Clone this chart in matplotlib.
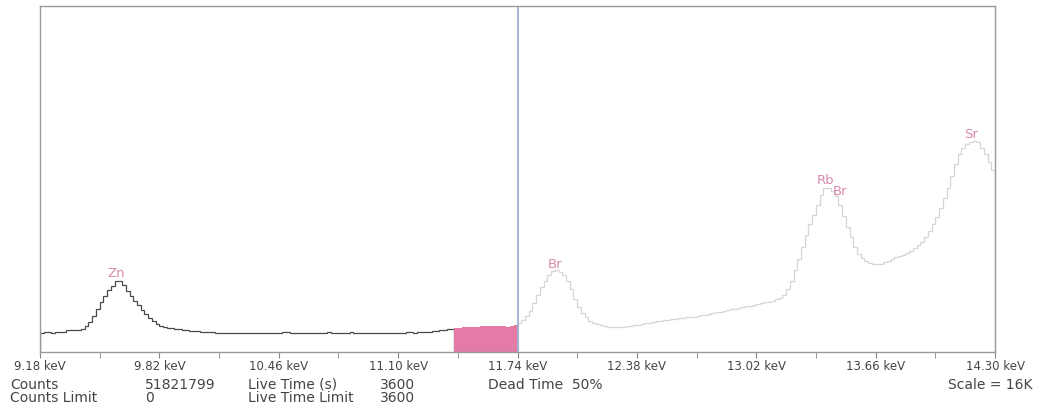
import numpy as np
import matplotlib
matplotlib.use('Agg')
import matplotlib.pyplot as plt

plt.rcParams['font.family'] = ['DejaVu Sans']

# Spectrum channels: 0.02 keV wide, starting at 9.18 keV
e_start_kev = 9.18
channel_kev = 0.02

# counts left of the region of interest (9.18 - 11.40 keV)
counts_left = [
    900, 905, 910, 900, 915, 910, 915, 1000, 1010, 1020, 1030,
    1080, 1200, 1390, 1680, 1990, 2300, 2610, 2860, 3070, 3290,
    3270, 3100, 2830, 2580, 2360, 2170, 1960, 1760, 1570, 1420,
    1300, 1220, 1160, 1120, 1090, 1070, 1050, 1030, 1010, 990,
    975, 960, 945, 930,
    920, 910, 900, 895, 890, 895, 885, 880, 890, 885,
    880, 875, 885, 880, 870, 880, 875, 885, 870, 880,
    930, 920, 890, 880, 870, 875, 865, 870, 880, 860,
    870, 865, 905, 870, 860, 865, 870, 900, 930, 900,
    890, 870, 880, 870, 890, 880, 870, 885, 895, 880,
    890, 900, 895, 905, 910, 900, 915, 930, 925, 945,
    960, 985, 1000, 1030, 1060, 1080,
]
# region of interest (11.40 - 11.74 keV), shaded
counts_roi = [1110, 1130, 1140, 1150, 1160, 1170, 1165, 1180, 1190,
              1185, 1200, 1195, 1180, 1190, 1175, 1185, 1260]
# right of the cursor (11.74 - 14.30 keV)
counts_right = [
    1350, 1480, 1650, 1900, 2250, 2650, 3000, 3300, 3550, 3750,
    3780, 3700, 3550, 3300, 2900, 2450, 2100, 1800, 1600, 1450,
    1350, 1280, 1230, 1190, 1170, 1150, 1160, 1150, 1170, 1190,
    1210, 1240, 1270, 1300, 1330, 1360, 1390, 1420, 1450, 1480,
    1500, 1520, 1540, 1560, 1580, 1600, 1620, 1640, 1660, 1690,
    1720, 1760, 1790, 1830, 1860, 1900, 1940, 1980, 2010, 2050,
    2080, 2120, 2150, 2190, 2220, 2250, 2290, 2330, 2380, 2430,
    2500, 2620, 2900, 3300, 3800, 4300, 4850, 5400, 5900, 6350,
    6800, 7250, 7600, 7580, 7450, 7200, 6800, 6300, 5800, 5300,
    4850, 4550, 4350, 4200, 4120, 4070, 4050, 4080, 4150, 4220,
    4300, 4370, 4430, 4500, 4580, 4680, 4800, 4950, 5100, 5300,
    5600, 5900, 6250, 6650, 7100, 7600, 8150, 8700, 9150, 9450,
    9600, 9700, 9780, 9700, 9450, 9150, 8800, 8400,
]

cursor_kev = 11.74
tick_kev = [9.18, 9.82, 10.46, 11.10, 11.74, 12.38, 13.02, 13.66, 14.30]
scale_counts = 16000

peak_names = ['Zn', 'Br', 'Rb', 'Br', 'Sr']
peak_kev = [9.59, 11.94, 13.39, 13.47, 14.17]
peak_label_counts = [3650, 4050, 7950, 7400, 10050]

# channel edges from the calibration
n_left, n_roi, n_right = len(counts_left), len(counts_roi), len(counts_right)
edges = e_start_kev + channel_kev * np.arange(n_left + n_roi + n_right + 1)
edges_left = edges[:n_left + 1]
edges_roi = edges[n_left:n_left + n_roi + 1]
edges_right = edges[n_left + n_roi:]

fig = plt.figure(figsize=(10.41, 4.09), dpi=100)
ax = fig.add_axes([40 / 1041, 57 / 409, 955 / 1041, 346 / 409])

ax.stairs(counts_left, edges_left, color='#4a4a4a', lw=0.9)
ax.stairs(counts_roi, edges_roi, fill=True, color='#e47aa6')
ax.stairs(counts_right, edges_right, color='#d6d6d6', lw=0.9)
ax.axvline(cursor_kev, color='#9fb3d3', lw=1.3)

for name, e, c in zip(peak_names, peak_kev, peak_label_counts):
    ax.text(e, c, name, color='#d98aae', fontsize=9.5, ha='center',
            va='center')

ax.set_xlim(tick_kev[0], tick_kev[-1])
ax.set_ylim(0, scale_counts)
ax.set_xticks(tick_kev)
ax.set_xticklabels(['%.2f keV' % t for t in tick_kev])
ax.set_xticks([(a + b) / 2 for a, b in zip(tick_kev[:-1], tick_kev[1:])],
              minor=True)
ax.set_yticks([])
ax.tick_params(axis='x', which='both', direction='out', length=4,
               color='#888888', labelsize=8.5, labelcolor='#444444', pad=2)
for s in ax.spines.values():
    s.set_color('#999999')
    s.set_linewidth(1.0)

# status lines below the chart
txt = dict(fontsize=10, color='#444444', va='center')
fig.text(10 / 1041, 1 - 385 / 409, 'Counts', **txt)
fig.text(10 / 1041, 1 - 398 / 409, 'Counts Limit', **txt)
fig.text(145 / 1041, 1 - 385 / 409, '51821799', **txt)
fig.text(145 / 1041, 1 - 398 / 409, '0', **txt)
fig.text(248 / 1041, 1 - 385 / 409, 'Live Time (s)', **txt)
fig.text(248 / 1041, 1 - 398 / 409, 'Live Time Limit', **txt)
fig.text(380 / 1041, 1 - 385 / 409, '3600', **txt)
fig.text(380 / 1041, 1 - 398 / 409, '3600', **txt)
fig.text(488 / 1041, 1 - 385 / 409, 'Dead Time  50%', **txt)
fig.text(1032 / 1041, 1 - 385 / 409, 'Scale = 16K', ha='right', **txt)

fig.savefig('out.png', dpi=100)
plt.close()
